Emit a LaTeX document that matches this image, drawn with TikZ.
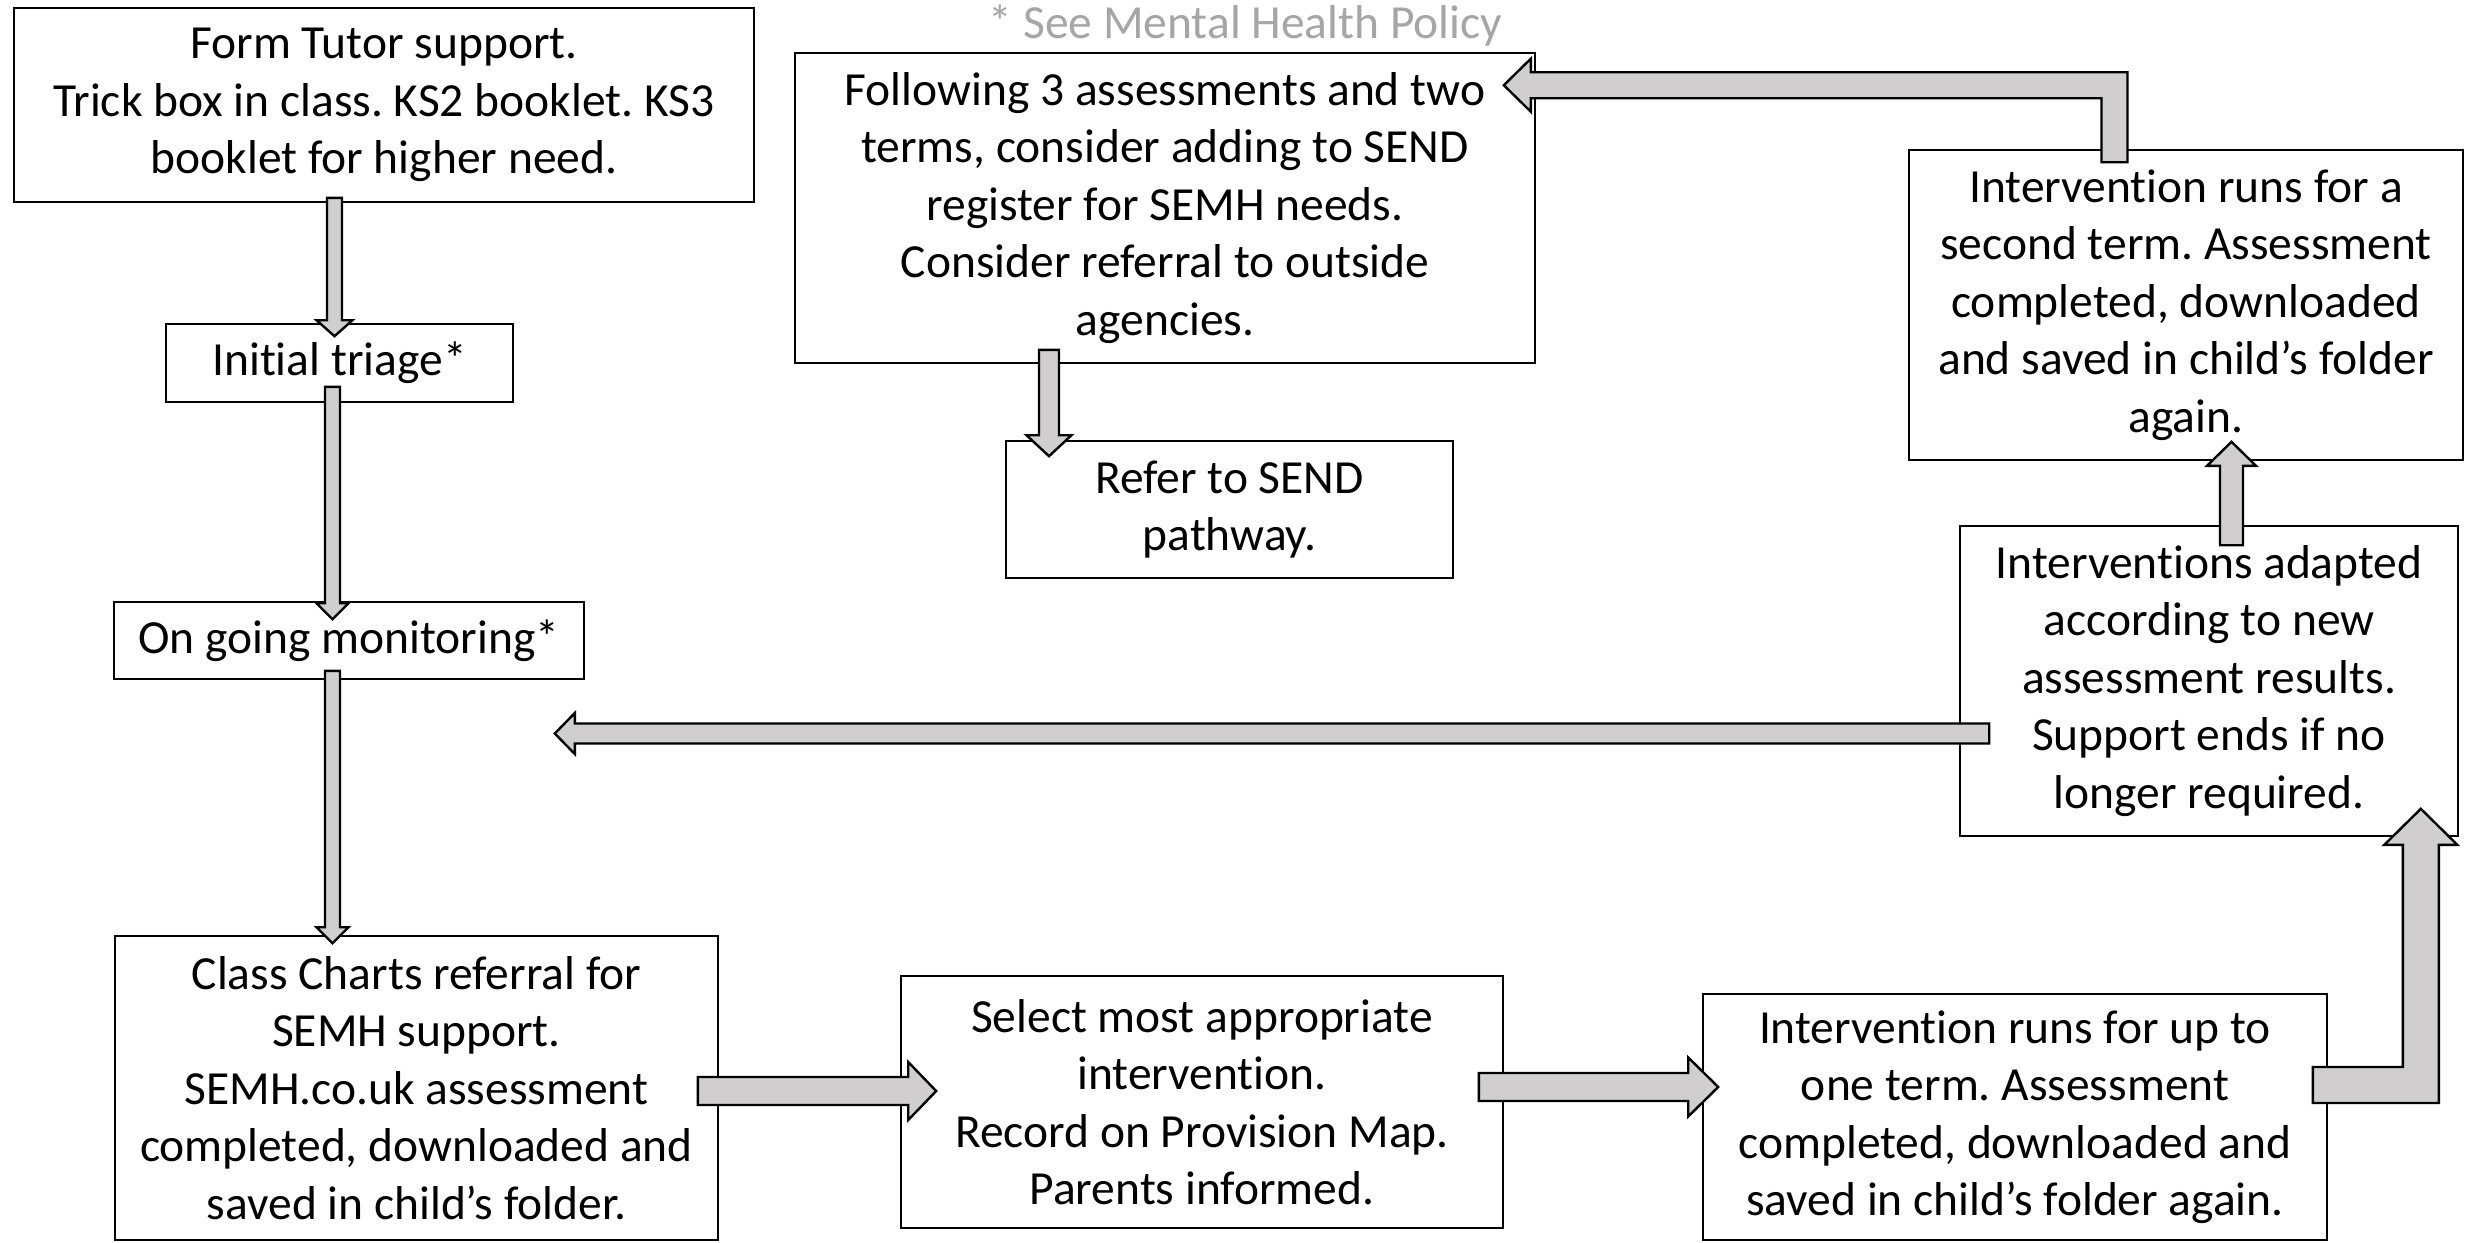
\documentclass[tikz,border=0pt]{standalone}
\usepackage{fontspec}
\setmainfont{Carlito}[Ligatures={NoCommon}]
\usetikzlibrary{calc}
\frenchspacing
\definecolor{arrowgray}{RGB}{208,206,206}
\definecolor{notegray}{RGB}{166,166,166}
% vertical block arrow: start, tip, half shaft, half head, signed head length (canvas)
\newcommand\barrowv[5]{\filldraw[barrow] let \p1=(#1), \p2=(#2) in
  ({\x1-#3pt},{\y1}) -- ({\x1-#3pt},{\y2+(#5pt)}) -- ({\x1-#4pt},{\y2+(#5pt)}) -- ({\x1},{\y2})
  -- ({\x1+#4pt},{\y2+(#5pt)}) -- ({\x1+#3pt},{\y2+(#5pt)}) -- ({\x1+#3pt},{\y1}) -- cycle;}
% horizontal block arrow
\newcommand\barrowh[5]{\filldraw[barrow] let \p1=(#1), \p2=(#2) in
  ({\x1},{\y1+#3pt}) -- ({\x2+(#5pt)},{\y1+#3pt}) -- ({\x2+(#5pt)},{\y1+#4pt}) -- ({\x2},{\y1})
  -- ({\x2+(#5pt)},{\y1-#4pt}) -- ({\x2+(#5pt)},{\y1-#3pt}) -- ({\x1},{\y1-#3pt}) -- cycle;}
% elbow: horizontal to the right, then up
\newcommand\barrowhu[5]{\filldraw[barrow] let \p1=(#1), \p2=(#2) in
  ({\x1},{\y1+#3pt}) -- ({\x2-#3pt},{\y1+#3pt}) -- ({\x2-#3pt},{\y2-#5pt}) -- ({\x2-#4pt},{\y2-#5pt})
  -- ({\x2},{\y2}) -- ({\x2+#4pt},{\y2-#5pt}) -- ({\x2+#3pt},{\y2-#5pt}) -- ({\x2+#3pt},{\y1-#3pt})
  -- ({\x1},{\y1-#3pt}) -- cycle;}
% elbow: up, then to the left
\newcommand\barrowul[5]{\filldraw[barrow] let \p1=(#1), \p2=(#2) in
  ({\x1-#3pt},{\y1}) -- ({\x1-#3pt},{\y2-#3pt}) -- ({\x2+#5pt},{\y2-#3pt}) -- ({\x2+#5pt},{\y2-#4pt})
  -- ({\x2},{\y2}) -- ({\x2+#5pt},{\y2+#4pt}) -- ({\x2+#5pt},{\y2+#3pt}) -- ({\x1+#3pt},{\y2+#3pt})
  -- ({\x1+#3pt},{\y1}) -- cycle;}
\begin{document}
\begin{tikzpicture}[x=1pt,y=-1pt,
  box/.style={draw, line width=1.6pt, fill=white, inner sep=0pt, align=center,
    font=\fontsize{47.5}{57.5}\selectfont},
  barrow/.style={fill=arrowgray, draw=black, line width=2.4pt, line join=miter}]
\fill[white] (0,0) rectangle (2473,1242);
\useasboundingbox (0,0) rectangle (2473,1242);

\node[box, minimum width=740pt, minimum height=194pt] (A) at (384,105)
  {Form Tutor support.\\Trick box in class. KS2 booklet. KS3\\booklet for higher need.};
\node[box, minimum width=347pt, minimum height=78pt] (B) at (339.5,363) {Initial triage*};
\node[box, minimum width=470pt, minimum height=77pt] (C) at (349,640.5) {On going monitoring*};
\node[box, minimum width=603pt, minimum height=304pt] (D) at (416.5,1088)
  {Class Charts referral for\\SEMH support.\\SEMH.co.uk assessment\\completed, downloaded and\\saved in child’s folder.};
\node[box, minimum width=602pt, minimum height=252pt] (E) at (1202,1102)
  {Select most appropriate\\intervention.\\Record on Provision Map.\\Parents informed.};
\node[box, minimum width=624pt, minimum height=246pt] (F) at (2015,1117)
  {Intervention runs for up to\\one term. Assessment\\completed, downloaded and\\saved in child’s folder again.};
\node[box, minimum width=498pt, minimum height=310pt] (G) at (2209,681)
  {Interventions adapted\\according to new\\assessment results.\\Support ends if no\\longer required.};
\node[box, minimum width=554pt, minimum height=310pt] (H) at (2186,305)
  {Intervention runs for a\\second term. Assessment\\completed, downloaded\\and saved in child’s folder\\again.};
\node[box, minimum width=740pt, minimum height=310pt] (I) at (1165,208)
  {Following 3 assessments and two\\terms, consider adding to SEND\\register for SEMH needs.\\Consider referral to outside\\agencies.};
\node[box, minimum width=447pt, minimum height=137pt] (J) at (1229.5,509.5)
  {Refer to SEND\\pathway.};
\node[font=\fontsize{47.5}{57.5}\selectfont, text=notegray, anchor=base, inner sep=0pt] (note)
  at (1245.5,38) {* See Mental Health Policy};

\barrowv{[xshift=-49.5pt,yshift=5pt]A.south}{[xshift=-5pt,yshift=-13pt]B.north}{7.5}{18}{16}
\barrowv{[xshift=-7pt,yshift=16pt]B.south}{[xshift=-16.5pt,yshift=-18pt]C.north}{7.5}{16}{16}
\barrowv{[xshift=-16.5pt,yshift=9pt]C.south}{[xshift=-84pt,yshift=-8pt]D.north}{7.5}{16}{16}
\barrowh{[xshift=-21pt,yshift=-3pt]D.east}{[xshift=36pt,yshift=11pt]E.west}{14}{29}{-28}
\barrowh{[xshift=-25pt,yshift=15pt]E.east}{[xshift=16pt,yshift=30pt]F.west}{14}{29.5}{-30}
\barrowhu{[xshift=-15pt,yshift=32pt]F.east}{[xshift=-38pt,yshift=28pt]G.south east}{18}{36.5}{36}
\barrowv{[xshift=22.5pt,yshift=-20pt]G.north}{[xshift=45.5pt,yshift=19pt]H.south}{11.5}{24.5}{-24}
\barrowul{[xshift=-71.5pt,yshift=-13pt]H.north}{[xshift=-32pt,yshift=-33pt]I.north east}{13}{26.5}{27}
\barrowv{[xshift=-116pt,yshift=14pt]I.south}{[xshift=43pt,yshift=-16pt]J.north west}{10}{22.5}{21}
\barrowh{[xshift=30pt,yshift=-52.5pt]G.west}{[xshift=-30pt,yshift=-54.5pt]C.south east}{10}{20.5}{20}
\end{tikzpicture}
\end{document}
